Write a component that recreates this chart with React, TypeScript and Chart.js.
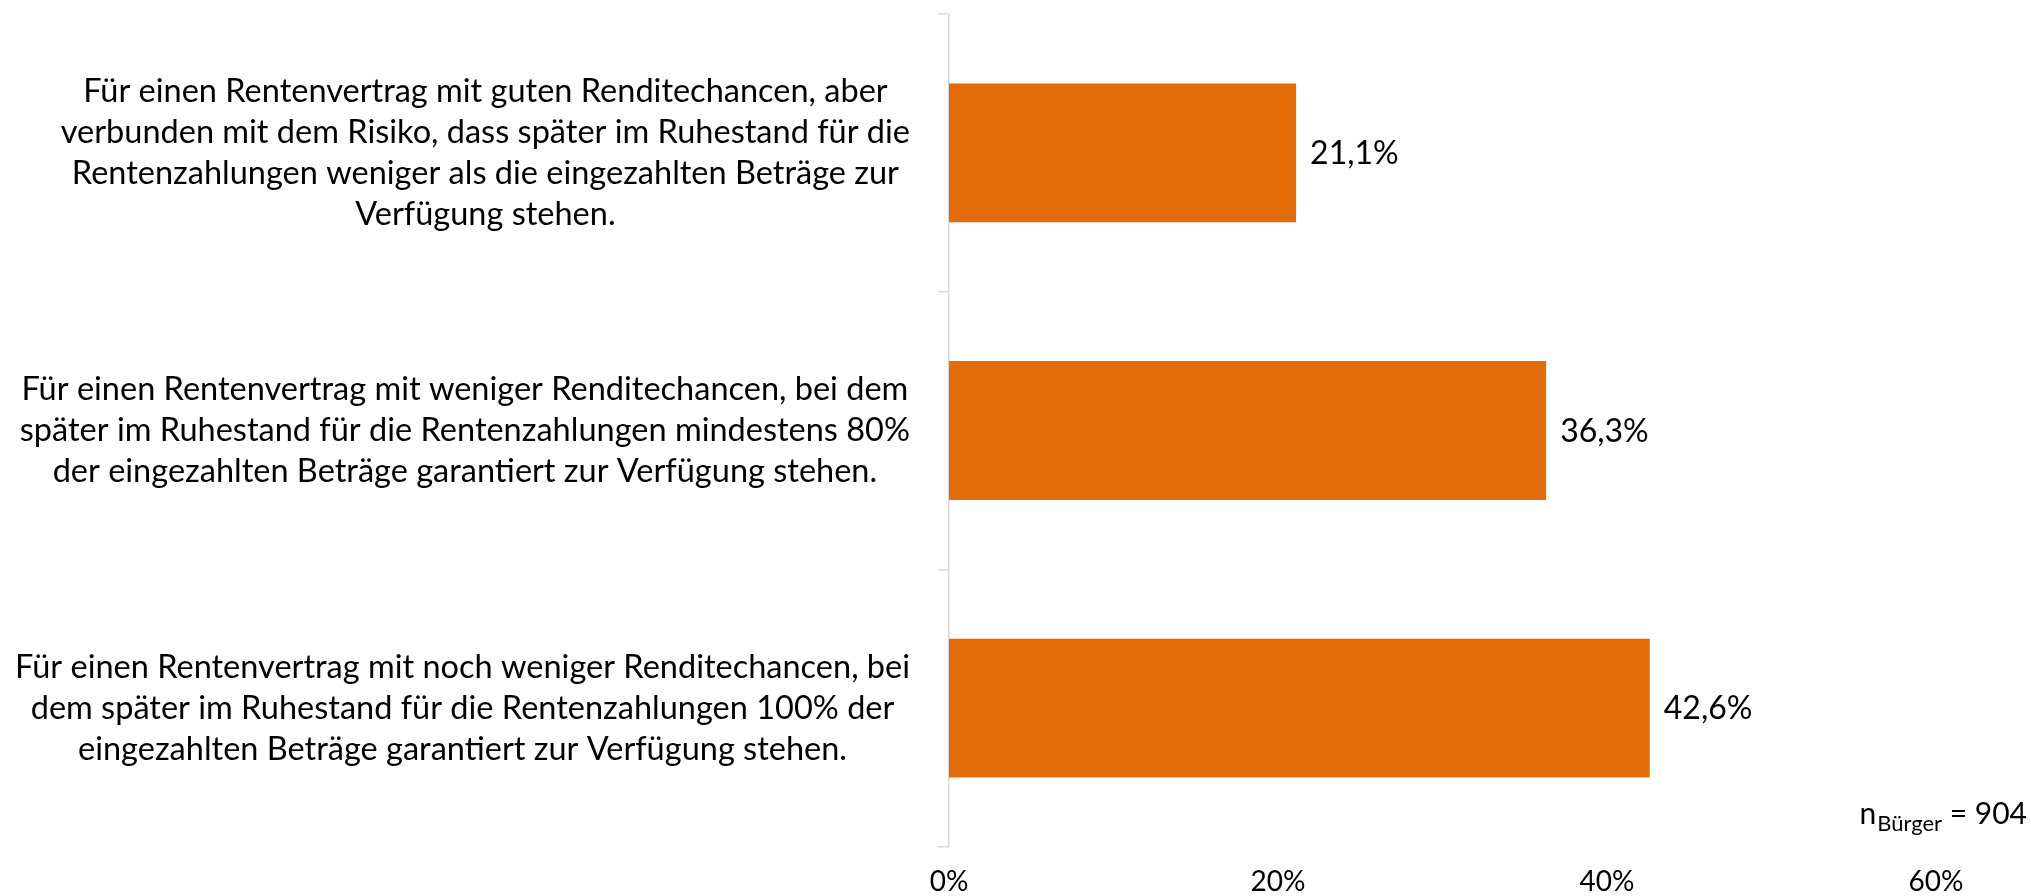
import React, { useEffect, useRef } from "react";
import { Chart, registerables } from "chart.js";

Chart.register(...registerables);

const categories: string[][] = [
  [
    "Für einen Rentenvertrag mit guten Renditechancen, aber",
    "verbunden mit dem Risiko, dass später im Ruhestand für die",
    "Rentenzahlungen weniger als die eingezahlten Beträge zur",
    "Verfügung stehen.",
  ],
  [
    "Für einen Rentenvertrag mit weniger Renditechancen, bei dem",
    "später im Ruhestand für die Rentenzahlungen mindestens 80%",
    "der eingezahlten Beträge garantiert zur Verfügung stehen.",
  ],
  [
    "Für einen Rentenvertrag mit noch weniger Renditechancen, bei",
    "dem später im Ruhestand für die Rentenzahlungen 100% der",
    "eingezahlten Beträge garantiert zur Verfügung stehen.",
  ],
];
const values: number[] = [21.1, 36.3, 42.6];
const valueLabels: string[] = ["21,1%", "36,3%", "42,6%"];
const xTickValues: number[] = [0, 20, 40, 60];
const sampleBase = "n";
const sampleSub = "Bürger";
const sampleRest = " = 904";

const BAR_COLOR = "#E36C0A";
const AXIS_COLOR = "#D9D9D9";
const FONT = "Lato";
const CAT_FONT_SIZE = 32.5;
const CAT_LINE_HEIGHT = 41;
const CAT_GAP = 39; // distance between axis line and right edge of label blocks

// Multi-line y-axis category labels: each block sits at its tick pixel,
// right-aligned next to the axis, with the lines centred inside the block.
const categoryLabelPlugin = {
  id: "categoryLabels",
  afterDraw(chart: any) {
    const ctx = chart.ctx;
    const yScale = chart.scales.y;
    ctx.save();
    ctx.font = `${CAT_FONT_SIZE}px ${FONT}`;
    ctx.fillStyle = "#000";
    ctx.textAlign = "center";
    ctx.textBaseline = "middle";
    categories.forEach((lines, i) => {
      const yc = yScale.getPixelForTick(i);
      const blockWidth = Math.max(...lines.map((l) => ctx.measureText(l).width));
      const xc = yScale.right - CAT_GAP - blockWidth / 2;
      const y0 = yc - ((lines.length - 1) * CAT_LINE_HEIGHT) / 2;
      lines.forEach((line, j) => {
        ctx.fillText(line, xc, y0 + j * CAT_LINE_HEIGHT);
      });
    });
    ctx.restore();
  },
};

const valueLabelPlugin = {
  id: "valueLabels",
  afterDatasetsDraw(chart: any) {
    const ctx = chart.ctx;
    const meta = chart.getDatasetMeta(0);
    ctx.save();
    ctx.font = `32px ${FONT}`;
    ctx.fillStyle = "#000";
    ctx.textAlign = "left";
    ctx.textBaseline = "middle";
    meta.data.forEach((bar: any, i: number) => {
      ctx.fillText(valueLabels[i], bar.x + 14, bar.y + 1);
    });
    ctx.restore();
  },
};

const sampleSizePlugin = {
  id: "sampleSize",
  afterDraw(chart: any) {
    const ctx = chart.ctx;
    const area = chart.chartArea;
    const right = area.right + 91;
    const y = area.bottom - 33;
    ctx.save();
    ctx.fillStyle = "#000";
    ctx.textBaseline = "middle";
    ctx.textAlign = "left";
    ctx.font = `30px ${FONT}`;
    const wRest = ctx.measureText(sampleRest).width;
    const wBase = ctx.measureText(sampleBase).width;
    ctx.font = `22px ${FONT}`;
    const wSub = ctx.measureText(sampleSub).width;
    let x = right - wRest - wSub - wBase - 1;
    ctx.font = `30px ${FONT}`;
    ctx.fillText(sampleBase, x, y);
    x += wBase;
    ctx.font = `22px ${FONT}`;
    ctx.fillText(sampleSub, x + 1, y + 10);
    x += wSub + 1;
    ctx.font = `30px ${FONT}`;
    ctx.fillText(sampleRest, x, y);
    ctx.restore();
  },
};

export default function App() {
  const canvasRef = useRef<HTMLCanvasElement | null>(null);

  useEffect(() => {
    let chart: Chart | null = null;
    let cancelled = false;
    const build = () => {
      if (cancelled || !canvasRef.current) return;
      chart = new Chart(canvasRef.current, {
        type: "bar",
        data: {
          labels: categories.map((lines) => lines.join(" ")),
          datasets: [
            {
              data: values,
              backgroundColor: BAR_COLOR,
              borderWidth: 0,
              barPercentage: 0.5,
              categoryPercentage: 1.0,
            },
          ],
        },
        options: {
          indexAxis: "y",
          responsive: false,
          animation: false,
          events: [],
          layout: { padding: { top: 14, right: 95, bottom: 0, left: 0 } },
          plugins: {
            legend: { display: false },
            tooltip: { enabled: false },
            title: { display: false },
          },
          scales: {
            x: {
              min: 0,
              max: 60,
              afterBuildTicks: (scale: any) => {
                scale.ticks = xTickValues.map((v) => ({ value: v }));
              },
              afterFit: (scale: any) => {
                scale.height = 49;
              },
              grid: { display: false, drawTicks: false },
              border: { display: false },
              ticks: {
                padding: 21,
                color: "#000",
                font: { family: FONT, size: 28, lineHeight: 1.0 },
                callback: (v: any) => `${v}%`,
                maxRotation: 0,
              },
            },
            y: {
              afterFit: (scale: any) => {
                scale.width = 949;
                scale.paddingTop = 0;
                scale.paddingBottom = 0;
              },
              grid: {
                display: true,
                drawOnChartArea: false,
                drawTicks: true,
                tickLength: 11,
                color: AXIS_COLOR,
                lineWidth: 1.5,
                offset: true,
              },
              border: { display: true, color: AXIS_COLOR, width: 1.5 },
              ticks: {
                display: false,
                autoSkip: false,
              },
            },
          },
        },
        plugins: [categoryLabelPlugin, valueLabelPlugin, sampleSizePlugin],
      } as any);
    };
    const fonts: any = (document as any).fonts;
    if (fonts && fonts.load) {
      Promise.all([
        fonts.load(`${CAT_FONT_SIZE}px ${FONT}`),
        fonts.load(`32px ${FONT}`),
      ])
        .catch(() => null)
        .then(build);
    } else {
      build();
    }
    return () => {
      cancelled = true;
      if (chart) chart.destroy();
    };
  }, []);

  return (
    <div style={{ position: "absolute", left: 0, top: 0, width: 2031, height: 896, background: "#fff" }}>
      <canvas ref={canvasRef} width={2031} height={896} style={{ display: "block", width: 2031, height: 896 }} />
    </div>
  );
}
